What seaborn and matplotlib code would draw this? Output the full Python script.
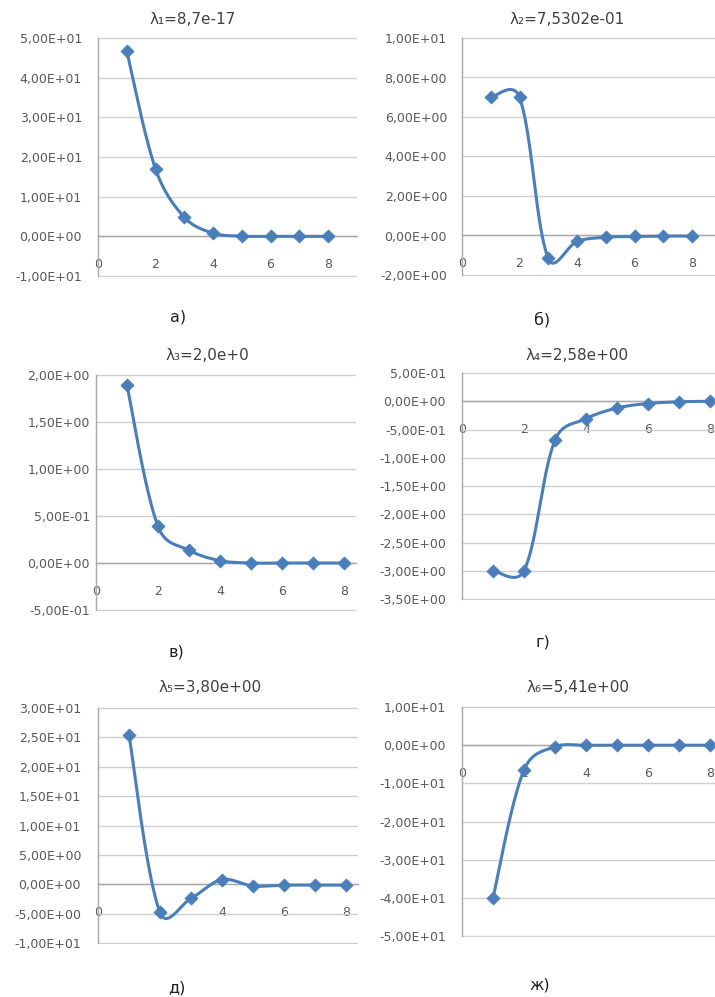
import numpy as np
import pandas as pd
import matplotlib
matplotlib.use("Agg")
import matplotlib.pyplot as plt
from matplotlib.ticker import FuncFormatter, FixedLocator
import seaborn as sns

# ---------------- data ----------------
x_vals = [1, 2, 3, 4, 5, 6, 7, 8]
y_a = [46.7, 17.0, 4.8, 0.8, 0.05, 0.0, 0.0, 0.0]
y_b = [7.0, 7.0, -1.16, -0.30, -0.09, -0.05, -0.03, -0.03]
y_c = [1.89, 0.39, 0.136, 0.025, 0.0, 0.0, 0.0, 0.0]
y_d = [-3.0, -3.0, -0.69, -0.31, -0.12, -0.04, -0.01, 0.0]
y_e = [25.4, -4.8, -2.4, 0.8, -0.3, -0.15, -0.15, -0.15]
y_f = [-40.0, -6.5, -0.4, -0.05, -0.02, -0.01, -0.01, -0.01]

titles = ["λ₁=8,7e-17", "λ₂=7,5302e-01", "λ₃=2,0e+0",
          "λ₄=2,58e+00", "λ₅=3,80e+00", "λ₆=5,41e+00"]
letters = ["а)", "б)", "в)", "г)", "д)", "ж)"]
yticks_a = [-10, 0, 10, 20, 30, 40, 50]
yticks_b = [-2, 0, 2, 4, 6, 8, 10]
yticks_c = [-0.5, 0.0, 0.5, 1.0, 1.5, 2.0]
yticks_d = [-3.5, -3.0, -2.5, -2.0, -1.5, -1.0, -0.5, 0.0, 0.5]
yticks_e = [-10, -5, 0, 5, 10, 15, 20, 25, 30]
yticks_f = [-50, -40, -30, -20, -10, 0, 10]
xticks = [0, 2, 4, 6, 8]

# ---------------- style ----------------
sns.set_theme(style="white")
plt.rcParams["font.family"] = ["DejaVu Sans"]

W, H = 715, 997
fig = plt.figure(figsize=(W / 100, H / 100), dpi=100)

BLUE = "#4A7EBB"
GRID = "#CFCFCF"
AXC = "#A8A8A8"
TXT = "#595959"


def smooth(x, y, sx, sy, n=40):
    """Excel-like smoothed line: cubic Bezier, control points a blend of
    Catmull-Rom and distance-weighted tangents (screen space)."""
    P = np.column_stack([np.asarray(x, float) * sx, np.asarray(y, float) * sy])
    m = len(P)
    cin = np.zeros_like(P)
    cout = np.zeros_like(P)
    for i in range(m):
        prev = P[i - 1] if i > 0 else P[i]
        nxt = P[i + 1] if i < m - 1 else P[i]
        T = nxt - prev
        d0 = np.linalg.norm(P[i] - prev)
        d1 = np.linalg.norm(nxt - P[i])
        tot = d0 + d1 if d0 + d1 > 0 else 1.0
        if i == 0 or i == m - 1:
            w_out = w_in = 0.5
        else:
            w_out = 0.5 * 0.5 + 0.5 * d1 / tot
            w_in = 0.5 * 0.5 + 0.5 * d0 / tot
        cout[i] = P[i] + T * w_out / 3.0
        cin[i] = P[i] - T * w_in / 3.0
    out = []
    t = np.linspace(0, 1, n)[:, None]
    for i in range(m - 1):
        p1, c1, c2, p2 = P[i], cout[i], cin[i + 1], P[i + 1]
        B = ((1 - t) ** 3) * p1 + 3 * ((1 - t) ** 2) * t * c1 + 3 * (1 - t) * t ** 2 * c2 + t ** 3 * p2
        out.append(B if i == 0 else B[1:])
    C = np.vstack(out)
    return C[:, 0] / sx, C[:, 1] / sy


def fmt(v, pos):
    s = f"{v:.2E}".replace(".", ",")
    if s.startswith("-0,00"):
        s = s[1:]
    return s


panels = [
    dict(y=y_a, ticks=yticks_a, left=98, top=38, bottom=276, ppu=28.75, xmax=9.0, ypad=16,
         title=(193, 20), letter=(178, 317)),
    dict(y=y_b, ticks=yticks_b, left=462, top=38, bottom=275, ppu=28.75, xmax=9.0, ypad=15,
         title=(567, 20), letter=(542, 320)),
    dict(y=y_c, ticks=yticks_c, left=96, top=375, bottom=610, ppu=31.0, xmax=8.4, ypad=6,
         title=(207, 355), letter=(176, 652)),
    dict(y=y_d, ticks=yticks_d, left=462, top=373, bottom=599, ppu=31.0, xmax=8.4, ypad=16,
         title=(577, 355), letter=(543, 642)),
    dict(y=y_e, ticks=yticks_e, left=98, top=708, bottom=943, ppu=31.0, xmax=8.4, ypad=17,
         title=(210, 688), letter=(177, 988)),
    dict(y=y_f, ticks=yticks_f, left=462, top=707, bottom=936, ppu=31.0, xmax=8.4, ypad=16,
         title=(578, 688), letter=(540, 985)),
]

for i, p in enumerate(panels):
    width = p["ppu"] * p["xmax"]
    hpx = p["bottom"] - p["top"]
    y0, y1 = p["ticks"][0], p["ticks"][-1]
    sy = hpx / (y1 - y0)
    eps = 1.0 / sy
    ax = fig.add_axes([p["left"] / W, 1 - (p["bottom"] + 1) / H, width / W, (hpx + 2) / H])
    ax.set_facecolor("none")

    cx, cy = smooth(x_vals, p["y"], p["ppu"], sy)
    cdf = pd.DataFrame({"x": cx, "y": cy})
    pdf = pd.DataFrame({"x": x_vals, "y": p["y"]})
    sns.lineplot(data=cdf, x="x", y="y", ax=ax, color=BLUE, lw=2.2, sort=False,
                 estimator=None, zorder=3)
    sns.scatterplot(data=pdf, x="x", y="y", ax=ax, color=BLUE, marker="D", s=45,
                    edgecolor=BLUE, linewidth=0.5, zorder=4)

    ax.set_xlim(0, p["xmax"])
    ax.set_ylim(y0 - eps, y1 + eps)
    ax.yaxis.set_major_locator(FixedLocator(p["ticks"]))
    ax.yaxis.set_major_formatter(FuncFormatter(fmt))
    ax.xaxis.set_major_locator(FixedLocator(xticks))
    ax.set_xlabel("")
    ax.set_ylabel("")

    ax.yaxis.grid(True, color=GRID, lw=1.0)
    ax.xaxis.grid(False)
    ax.set_axisbelow(True)

    for s in ["top", "right"]:
        ax.spines[s].set_visible(False)
    ax.spines["left"].set_color(AXC)
    ax.spines["left"].set_linewidth(1.0)
    ax.spines["left"].set_bounds(y0, y1)
    ax.spines["bottom"].set_position(("data", 0))
    ax.spines["bottom"].set_color(AXC)
    ax.spines["bottom"].set_linewidth(1.0)

    ax.tick_params(axis="y", length=0, pad=p["ypad"] * 0.72, labelsize=9, labelcolor=TXT)
    ax.tick_params(axis="x", length=3, width=0.8, color=AXC, direction="out",
                   pad=12.5, labelsize=9, labelcolor=TXT)

    tx, ty = p["title"]
    fig.text(tx / W, 1 - ty / H, titles[i], ha="center", va="center", fontsize=11,
             color="#404040")
    lx, ly = p["letter"]
    fig.text(lx / W, 1 - ly / H, letters[i], ha="center", va="center", fontsize=11.5,
             color="#202020")

fig.savefig("out.png", dpi=100)
